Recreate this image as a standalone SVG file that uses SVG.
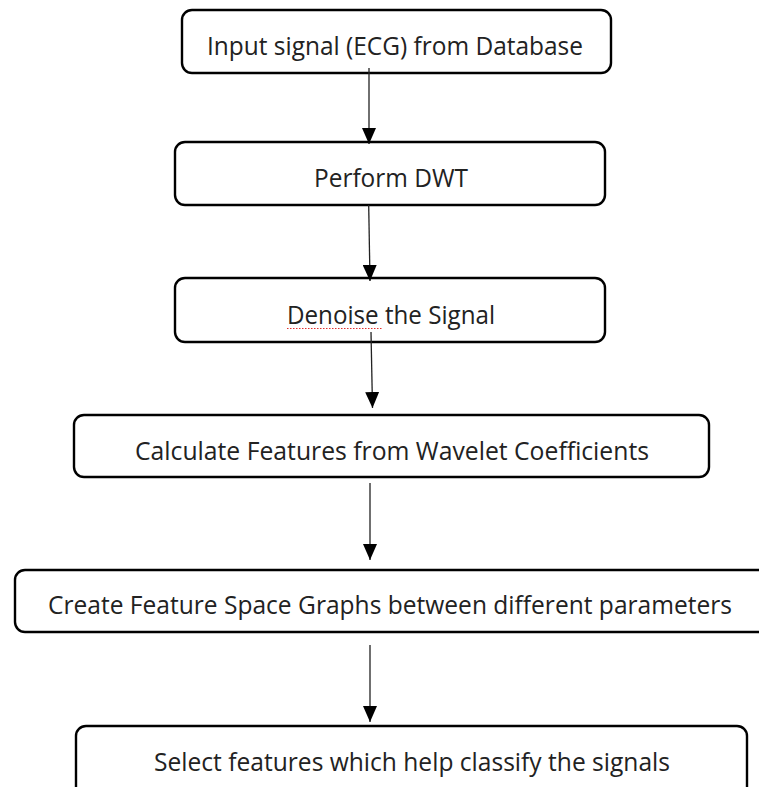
<svg xmlns="http://www.w3.org/2000/svg" width="759" height="787" viewBox="0 0 759 787">
  <style>
    .box { fill: #ffffff; stroke: #000000; stroke-width: 2.4; }
    .label { font-family: "Open Sans", "Liberation Sans", sans-serif; font-size: 26px; fill: #222222; }
    .link { stroke: #222222; stroke-width: 1.3; fill: none; marker-end: url(#head); }
  </style>
  <defs>
    <!-- solid triangular arrowhead, tip at the end of the line -->
    <marker id="head" markerUnits="userSpaceOnUse" markerWidth="16" markerHeight="14" viewBox="0 0 16 14" refX="16" refY="7" orient="auto">
      <path d="M0,0 L16,7 L0,14 Z" fill="#000000"/>
    </marker>
  </defs>
  <rect width="759" height="787" fill="#ffffff"/>

  <g id="input-signal">
    <rect class="box" x="182" y="10" width="429" height="63" rx="10"/>
    <text class="label" x="207" y="55" textLength="376" lengthAdjust="spacingAndGlyphs">Input signal (ECG) from Database</text>
  </g>
  <g id="perform-dwt">
    <rect class="box" x="175" y="142" width="430" height="63" rx="10"/>
    <text class="label" x="314" y="187" textLength="154" lengthAdjust="spacingAndGlyphs">Perform DWT</text>
  </g>
  <g id="denoise">
    <rect class="box" x="175" y="278" width="430" height="64" rx="10"/>
    <text class="label" x="287" y="324" textLength="208" lengthAdjust="spacingAndGlyphs">Denoise the Signal</text>
    <line x1="287" y1="328.5" x2="382" y2="328.5" stroke="#e03030" stroke-width="1" stroke-dasharray="1.5 1.5"/>
  </g>
  <g id="calculate-features">
    <rect class="box" x="74" y="415" width="635" height="62" rx="10"/>
    <text class="label" x="135" y="460" textLength="514" lengthAdjust="spacingAndGlyphs">Calculate Features from Wavelet Coefficients</text>
  </g>
  <g id="feature-space">
    <rect class="box" x="15" y="570" width="760" height="62" rx="10"/>
    <text class="label" x="48" y="614" textLength="684" lengthAdjust="spacingAndGlyphs">Create Feature Space Graphs between different parameters</text>
  </g>
  <g id="select-features">
    <rect class="box" x="76" y="726" width="671" height="80" rx="10"/>
    <text class="label" x="154" y="771" textLength="516" lengthAdjust="spacingAndGlyphs">Select features which help classify the signals</text>
  </g>

  <g id="connectors">
    <line class="link" x1="369" y1="68" x2="369" y2="144"/>
    <line class="link" x1="368.7" y1="205" x2="370" y2="281"/>
    <line class="link" x1="371" y1="332" x2="372.5" y2="408"/>
    <line class="link" x1="370" y1="483" x2="370" y2="560"/>
    <line class="link" x1="370" y1="645" x2="370" y2="722"/>
  </g>
</svg>
